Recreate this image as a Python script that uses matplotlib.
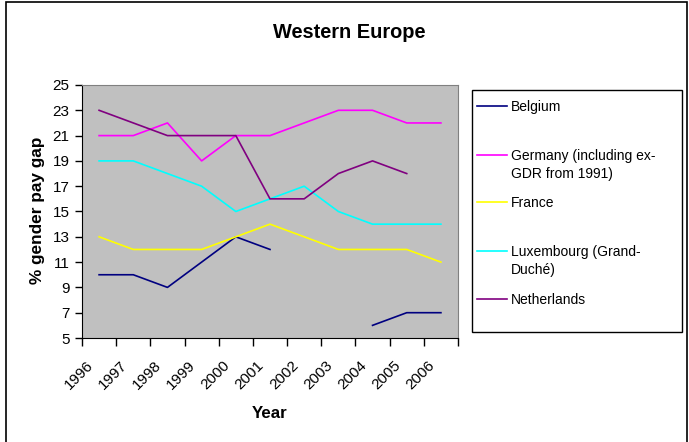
import numpy as np
import matplotlib
matplotlib.use("Agg")
import matplotlib.pyplot as plt
import matplotlib.transforms as mtransforms
from matplotlib.patches import Rectangle
from matplotlib.lines import Line2D

plt.rcParams['font.family'] = ['Liberation Sans', 'DejaVu Sans']

years = ['1996', '1997', '1998', '1999', '2000', '2001', '2002', '2003', '2004', '2005', '2006']
belgium = [10, 10, 9, 11, 13, 12, np.nan, np.nan, 6, 7, 7]
germany = [21, 21, 22, 19, 21, 21, 22, 23, 23, 22, 22]
france = [13, 12, 12, 12, 13, 14, 13, 12, 12, 12, 11]
luxembourg = [19, 19, 18, 17, 15, 16, 17, 15, 14, 14, 14]
netherlands = [23, 22, 21, 21, 21, 16, 16, 18, 19, 18, np.nan]

series = [
    ('Belgium', belgium, '#000080'),
    ('Germany (including ex-\nGDR from 1991)', germany, '#FF00FF'),
    ('France', france, '#FFFF00'),
    ('Luxembourg (Grand-\nDuché)', luxembourg, '#00FFFF'),
    ('Netherlands', netherlands, '#800080'),
]

W, H = 689, 442
fig = plt.figure(figsize=(W / 100, H / 100), dpi=100)

# axes placed in pixel coordinates of the reference
left, right, top, bottom = 82, 458, 85, 338
ax = fig.add_axes([left / W, 1 - bottom / H, (right - left) / W, (bottom - top) / H])
ax.set_facecolor('#C0C0C0')

x = np.arange(len(years))
for name, vals, col in series:
    ax.plot(x, vals, color=col, lw=1.2)

ax.set_xlim(-0.5, len(years) - 0.5)
ax.set_ylim(5, 25)
ax.set_yticks(range(5, 26, 2))
ax.tick_params(axis='y', labelsize=11, length=5, width=1, pad=4)

# ticks between categories, labels at category centres
ax.set_xticks(np.arange(-0.5, len(years), 1))
ax.set_xticklabels([])
ax.tick_params(axis='x', which='major', length=6, width=1)
ax.set_xticks(x, minor=True)
ax.set_xticklabels(years, minor=True, rotation=45, ha='right', rotation_mode='anchor', fontsize=11)
ax.tick_params(axis='x', which='minor', length=0, pad=10)
shift = mtransforms.ScaledTranslation(-13 / 100, -6 / 100, fig.dpi_scale_trans)
for lab in ax.get_xticklabels(minor=True):
    lab.set_transform(lab.get_transform() + shift)

for s in ['top', 'right']:
    ax.spines[s].set_color('#808080')
ax.spines['left'].set_color('black')
ax.spines['bottom'].set_color('black')

fig.text(349 / W, 1 - 33 / H, 'Western Europe', ha='center', va='center',
         fontsize=14.4, fontweight='bold')
fig.text(38 / W, 1 - 210 / H, '% gender pay gap', ha='center', va='center',
         rotation=90, fontsize=12.4, fontweight='bold')
fig.text(270 / W, 1 - 413 / H, 'Year', ha='center', va='center',
         fontsize=12.2, fontweight='bold')

# legend box drawn by hand to follow the Excel layout
fig.patches.append(Rectangle((472 / W, 1 - 332 / H), (682 - 472) / W, (332 - 90) / H,
                             transform=fig.transFigure, facecolor='white',
                             edgecolor='black', lw=1))
entry_y = [106, 155, 202, 251, 299]
for (name, vals, col), ey in zip(series, entry_y):
    fig.lines.append(Line2D([477 / W, 507 / W], [1 - ey / H, 1 - ey / H],
                            transform=fig.transFigure, color=col, lw=1.2))
    fig.text(511 / W, 1 - (ey - 6) / H, name, ha='left', va='top',
             fontsize=10, linespacing=1.33)

# outer chart border
fig.patches.append(Rectangle((6 / W, -0.1), (687 - 6) / W, 1.1 - 2 / H,
                             transform=fig.transFigure, fill=False,
                             edgecolor='black', lw=1.2))

fig.savefig('out.png', dpi=100)
